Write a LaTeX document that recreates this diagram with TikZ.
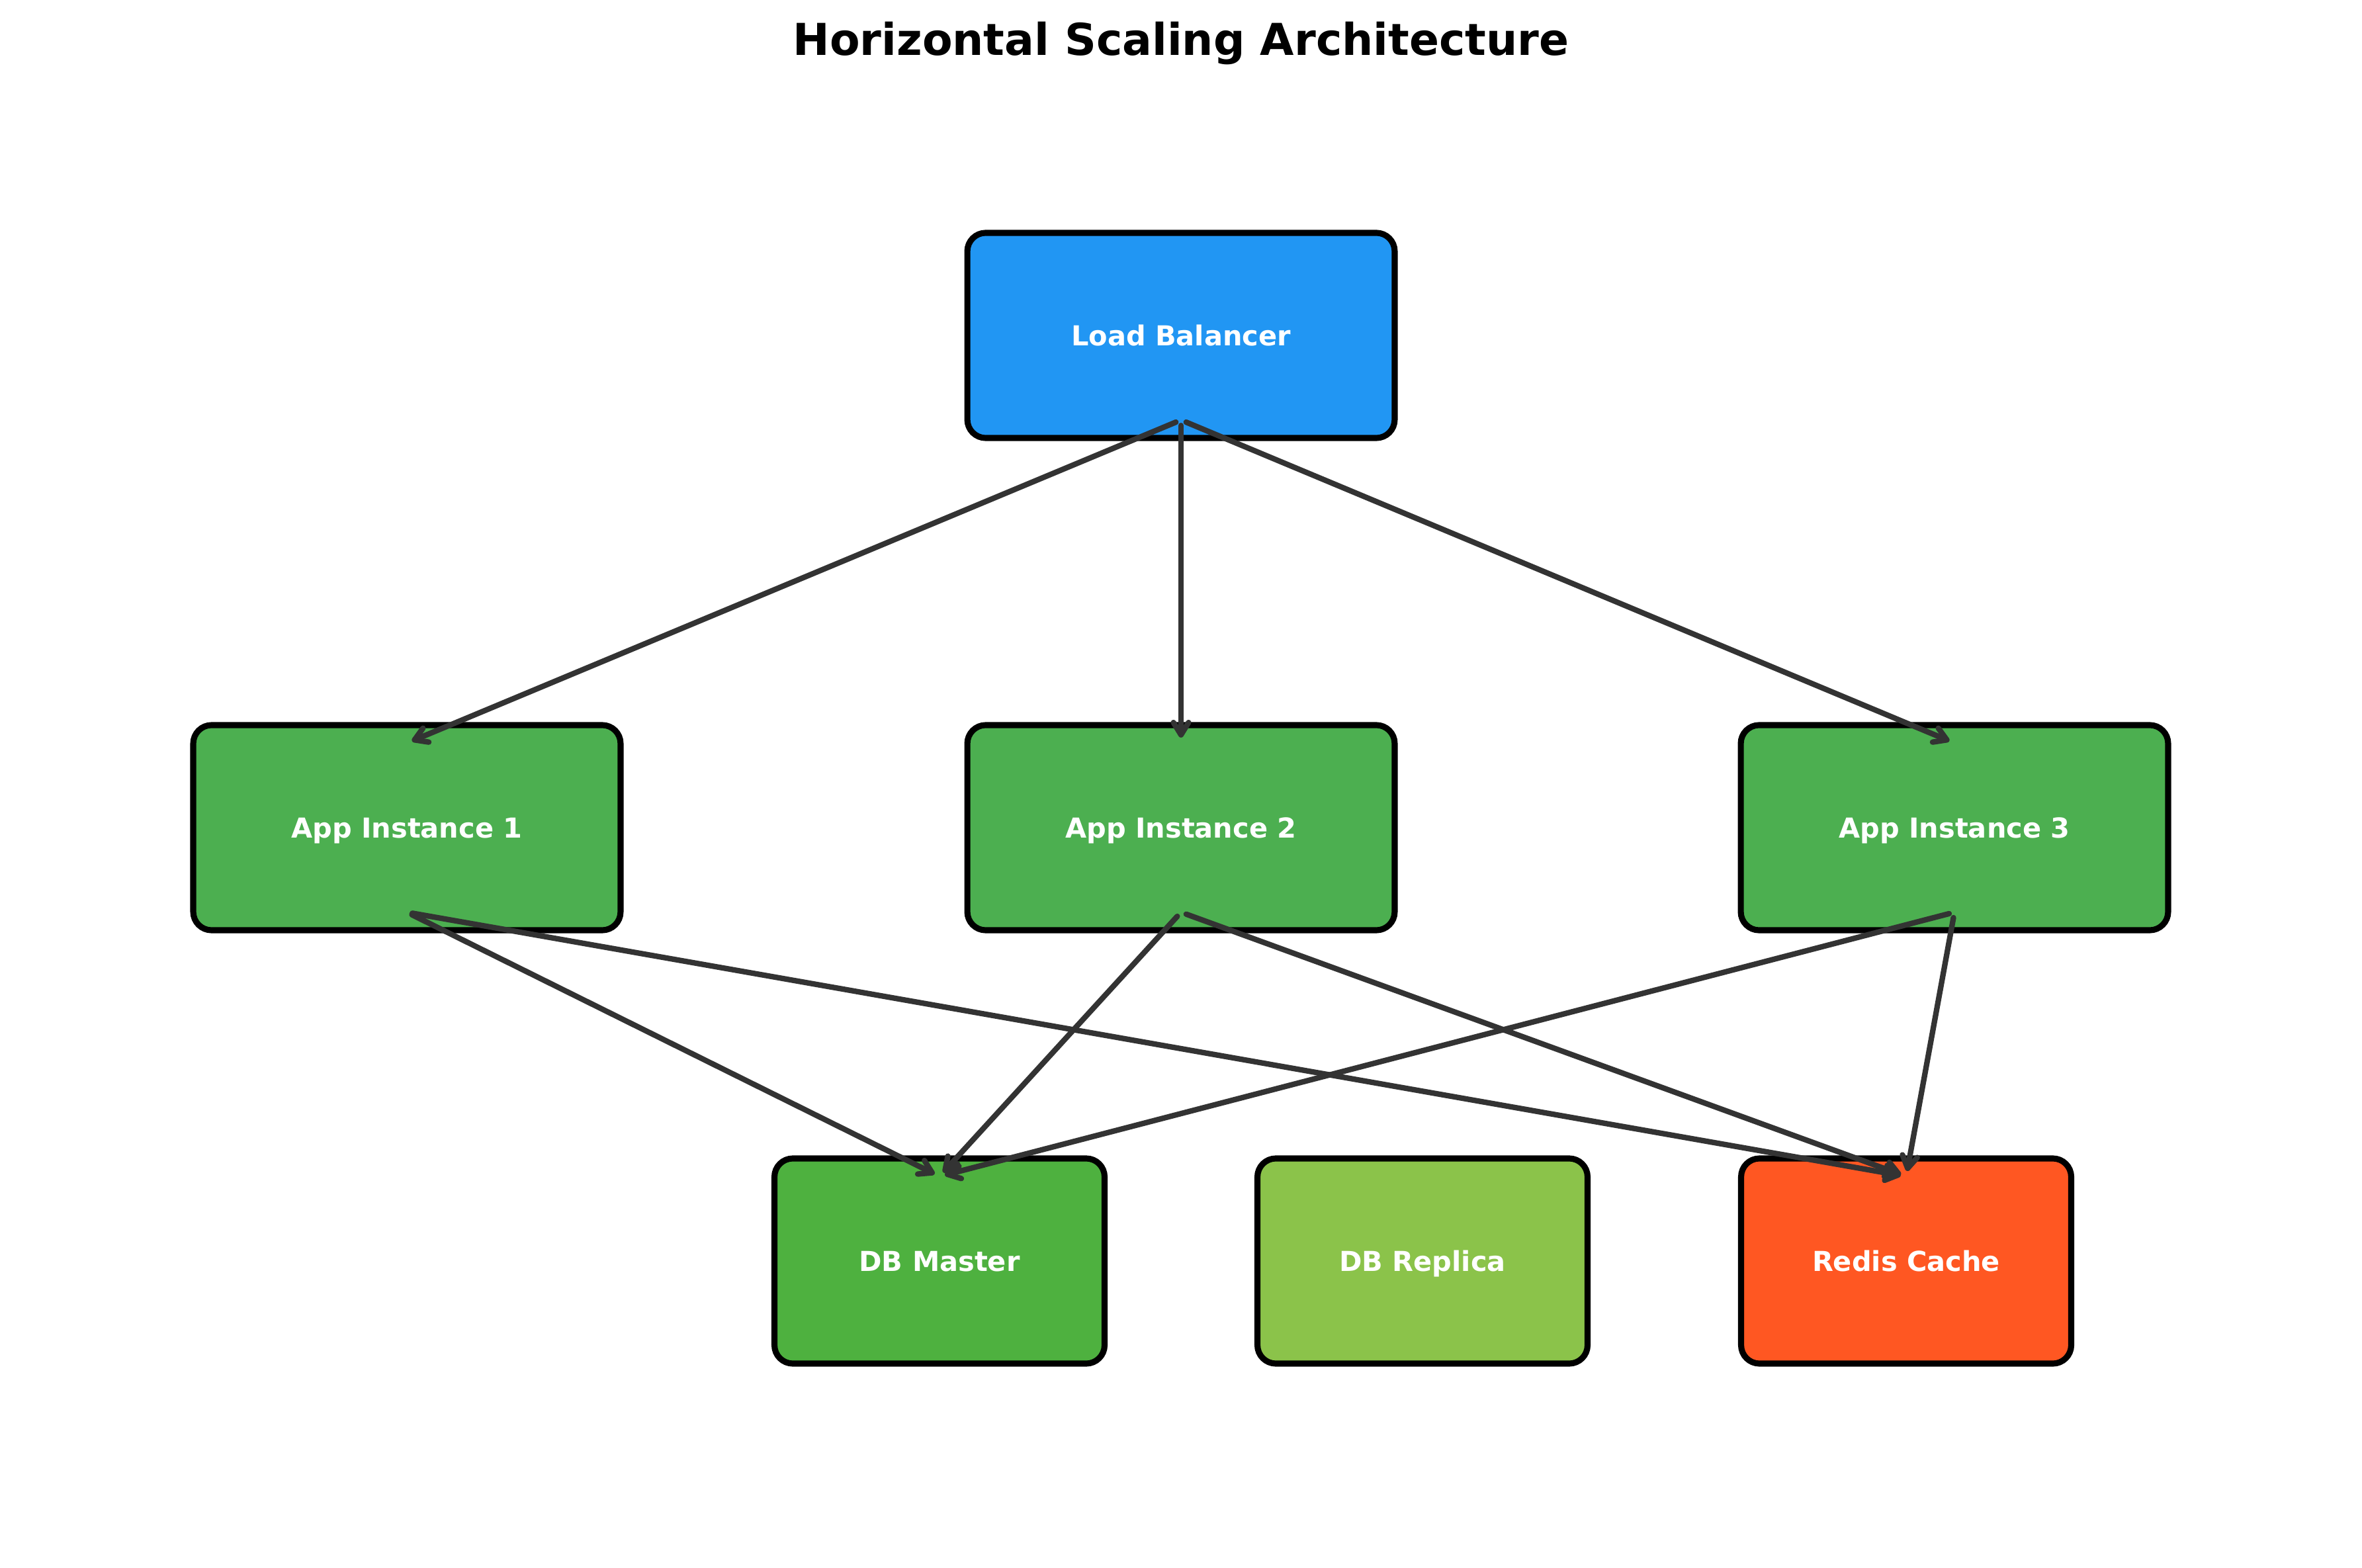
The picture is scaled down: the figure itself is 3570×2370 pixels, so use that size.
\documentclass[tikz,border=0pt]{standalone}
\usepackage{fontspec}
\setmainfont{DejaVu Sans}
\usetikzlibrary{arrows.meta}

\definecolor{lbblue}{HTML}{2196F3}
\definecolor{appgreen}{HTML}{4CAF50}
\definecolor{mastergreen}{HTML}{4EB13F}
\definecolor{replicagreen}{HTML}{8BC34A}
\definecolor{cacheorange}{HTML}{FF5722}
\definecolor{linkgray}{HTML}{333333}

\begin{document}
\begin{tikzpicture}[x=0.2409pt, y=-0.2409pt,
    box/.style={draw=black, line width=2.2pt, rounded corners=6.7pt, minimum height=74.7pt,
        text depth=0pt, text=white, font=\bfseries\fontsize{10}{12}\selectfont},
    widebox/.style={box, minimum width=155.6pt},
    smallbox/.style={box, minimum width=120.2pt},
    link/.style={draw=linkgray, line width=2pt, line cap=round, shorten <=2pt, shorten >=2pt,
        -{Straight Barb[length=4.5pt,width=5.5pt,round]}}]
    \useasboundingbox (0,0) rectangle (3570,2370);

    \node [anchor=base, font=\bfseries\fontsize{16}{19}\selectfont] (title) at (1785,84) {Horizontal Scaling Architecture}; % title
    \node [widebox, fill=lbblue] (lb) at (1785,507) {Load Balancer}; % top row
    \node [widebox, fill=appgreen] (app1) at (615,1251) {App Instance 1}; % middle row
    \node [widebox, fill=appgreen] (app2) at (1785,1251) {App Instance 2};
    \node [widebox, fill=appgreen] (app3) at (2954,1251) {App Instance 3};
    \node [smallbox, fill=mastergreen] (dbm) at (1420,1906) {DB Master}; % bottom row
    \node [smallbox, fill=replicagreen] (dbr) at (2150,1906) {DB Replica};
    \node [smallbox, fill=cacheorange] (cache) at (2881,1906) {Redis Cache};

    % arrow ends sit inside the boxes
    \coordinate (lb-s) at ([yshift=-30.8pt]lb.center);
    \coordinate (app1-n) at ([yshift=30.8pt]app1.center);
    \coordinate (app2-n) at ([yshift=30.8pt]app2.center);
    \coordinate (app3-n) at ([yshift=30.8pt]app3.center);
    \coordinate (app1-s) at ([yshift=-30.8pt]app1.center);
    \coordinate (app2-s) at ([yshift=-30.8pt]app2.center);
    \coordinate (app3-s) at ([yshift=-30.8pt]app3.center);
    \coordinate (dbm-n) at ([yshift=30.8pt]dbm.center);
    \coordinate (cache-n) at ([yshift=30.8pt]cache.center);

    \draw [link] (lb-s) -- (app1-n);
    \draw [link] (lb-s) -- (app2-n);
    \draw [link] (lb-s) -- (app3-n);
    \draw [link] (app1-s) -- (dbm-n);
    \draw [link] (app1-s) -- (cache-n);
    \draw [link] (app2-s) -- (dbm-n);
    \draw [link] (app2-s) -- (cache-n);
    \draw [link] (app3-s) -- (dbm-n);
    \draw [link] (app3-s) -- (cache-n);
\end{tikzpicture}
\end{document}
